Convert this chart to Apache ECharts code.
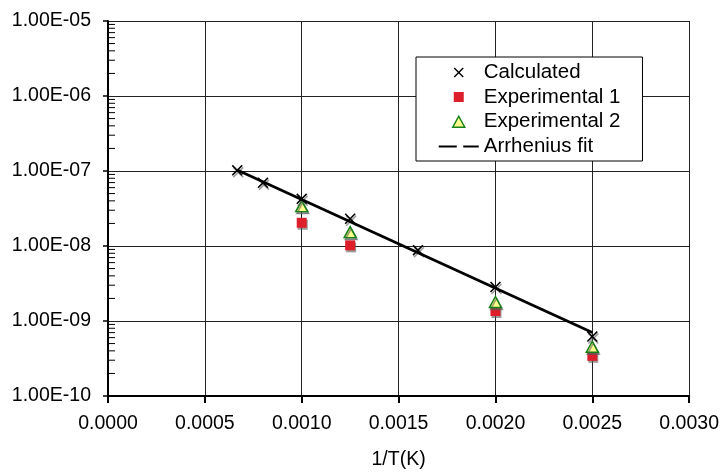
<!DOCTYPE html>
<html>
<head>
<meta charset="utf-8">
<script src="https://cdn.jsdelivr.net/npm/echarts@6/dist/echarts.min.js"></script>
<style>
  html, body { margin: 0; padding: 0; background: #fff; }
  #chart { width: 722px; height: 475px; }
</style>
</head>
<body>
<div id="chart"></div>
<script>
// x ticks (1/T) and y decades
const xTicks = [0, 0.0005, 0.001, 0.0015, 0.002, 0.0025, 0.003]
const yDecades = [1e-10, 1e-9, 1e-8, 1e-7, 1e-6, 1e-5]

// Calculated
const calcX = [0.000667, 0.0008, 0.001, 0.00125, 0.0016, 0.002, 0.0025]
const calcY = [1.02e-7, 6.95e-8, 4.26e-8, 2.31e-8, 8.8e-9, 2.84e-9, 6.2e-10]

// Experimental 1
const exp1X = [0.001, 0.00125, 0.002, 0.0025]
const exp1Y = [2.04e-8, 1.02e-8, 1.36e-9, 3.43e-10]

// Experimental 2
const exp2X = [0.001, 0.00125, 0.002, 0.0025]
const exp2Y = [3.4e-8, 1.53e-8, 1.79e-9, 4.53e-10]

// Arrhenius fit (straight on the log axis)
const fitX = [0.000667, 0.0025]
const fitY = [1.03e-7, 7.0e-10]

const pairs = (xs, ys) => xs.map((x, i) => [x, ys[i]])

// minor ticks 2..9 x 10^n on the log axis
const minorTicks = []
yDecades.slice(0, -1).forEach(d => {
  for (let k = 2; k <= 9; k++) minorTicks.push([0, k * d])
})

const FONT = 'Liberation Sans, Arial, sans-serif'
const RED = '#dc1f2a'
const YELLOW = '#ffff8c'
const GREEN = '#17801a'

const crossPath = 'M0,1 L1,0 L5,4 L9,0 L10,1 L6,5 L10,9 L9,10 L5,6 L1,10 L0,9 L4,5 Z'
// legend icons drawn in a 40x20 box (corner moves fix the box)
const box = 'M0,0 M40,20 '
const legendCross = 'path://' + box + 'M15,6 L16,5 L20,9 L24,5 L25,6 L21,10 L25,14 L24,15 L20,11 L16,15 L15,14 L19,10 Z'
const legendSquare = 'path://' + box + 'M15,5 L25,5 L25,15 L15,15 Z'
const legendTri = 'path://' + box + 'M20,4.5 L26,15.5 L14,15.5 Z'
const legendDash = 'path://' + box + 'M0,9 L18,9 L18,11 L0,11 Z M24.5,9 L40,9 L40,11 L24.5,11 Z'

const fmtY = v => {
  const e = Math.round(Math.log10(v))
  const m = v / Math.pow(10, e)
  return m.toFixed(2) + 'E' + (e < 0 ? '-' : '+') + String(Math.abs(e)).padStart(2, '0')
}

const shadow = { shadowColor: 'rgba(90,90,90,0.6)', shadowOffsetX: 1, shadowOffsetY: 2, shadowBlur: 0 }
const noShadow = { shadowColor: 'rgba(0,0,0,0)', shadowOffsetX: 0, shadowOffsetY: 0, shadowBlur: 0 }

const chart = echarts.init(document.getElementById('chart'))

chart.setOption({
  animation: false,
  textStyle: { fontFamily: FONT, color: '#000' },
  grid: { left: 108, right: 31.3, top: 21, bottom: 78 },
  legend: {
    orient: 'vertical',
    left: 416,
    top: 57,
    padding: [5, 22, 4, 22],
    itemGap: 3.5,
    itemWidth: 40,
    itemHeight: 20,
    borderColor: '#000',
    borderWidth: 1,
    backgroundColor: '#fff',
    borderRadius: 0,
    selectedMode: false,
    textStyle: { fontFamily: FONT, fontSize: 20.5, color: '#000' },
    itemStyle: noShadow,
    data: [
      { name: 'Calculated', icon: legendCross, itemStyle: { color: '#000', borderWidth: 0, ...noShadow } },
      { name: 'Experimental 1', icon: legendSquare, itemStyle: { color: RED, borderWidth: 0, ...noShadow } },
      { name: 'Experimental 2', icon: legendTri, itemStyle: { color: YELLOW, borderColor: GREEN, borderWidth: 1.5, ...noShadow } },
      { name: 'Arrhenius fit', icon: legendDash, itemStyle: { color: '#000', borderWidth: 0, ...noShadow } }
    ]
  },
  xAxis: {
    type: 'value',
    min: xTicks[0],
    max: xTicks[xTicks.length - 1],
    interval: 0.0005,
    name: '1/T(K)',
    nameLocation: 'middle',
    nameGap: 54,
    nameTextStyle: { fontFamily: FONT, fontSize: 19.5, color: '#000' },
    axisLine: { onZero: false, lineStyle: { color: '#000', width: 2 } },
    axisTick: { show: true, length: 7, lineStyle: { color: '#000', width: 2 } },
    axisLabel: { fontFamily: FONT, fontSize: 19.5, color: '#000', margin: 18, formatter: v => v.toFixed(4) },
    splitLine: { show: true, lineStyle: { color: '#222', width: 1 } }
  },
  yAxis: {
    type: 'log',
    logBase: 10,
    min: yDecades[0],
    max: yDecades[yDecades.length - 1],
    axisLine: { lineStyle: { color: '#000', width: 2 } },
    axisTick: { show: true, length: 5, lineStyle: { color: '#000', width: 1.5 } },
    axisLabel: { fontFamily: FONT, fontSize: 19.5, color: '#000', margin: 17, formatter: fmtY },
    splitLine: { show: true, lineStyle: { color: '#222', width: 1 } }
  },
  series: [
    {
      name: 'minor',
      type: 'custom',
      silent: true,
      z: 3,
      data: minorTicks,
      renderItem: (params, api) => {
        const p = api.coord([api.value(0), api.value(1)])
        return {
          type: 'line',
          shape: { x1: p[0] + 1, y1: p[1], x2: p[0] + 7, y2: p[1] },
          style: { stroke: '#000', lineWidth: 1 }
        }
      }
    },
    {
      name: 'Experimental 1',
      type: 'scatter',
      symbol: 'rect',
      symbolSize: 10,
      data: pairs(exp1X, exp1Y),
      itemStyle: { color: RED, opacity: 1, ...shadow }
    },
    {
      name: 'Experimental 2',
      type: 'scatter',
      symbol: 'triangle',
      symbolSize: [12, 11],
      data: pairs(exp2X, exp2Y),
      itemStyle: { color: YELLOW, opacity: 1, borderColor: GREEN, borderWidth: 1.5, ...shadow }
    },
    {
      name: 'Calculated',
      type: 'scatter',
      symbol: 'path://' + crossPath,
      symbolSize: 11,
      data: pairs(calcX, calcY),
      itemStyle: { color: '#000', opacity: 1, ...shadow }
    },
    {
      name: 'Arrhenius fit',
      type: 'line',
      symbol: 'none',
      data: pairs(fitX, fitY),
      lineStyle: { color: '#000', width: 2.75 },
      itemStyle: { color: '#000' }
    }
  ]
})
</script>
</body>
</html>
